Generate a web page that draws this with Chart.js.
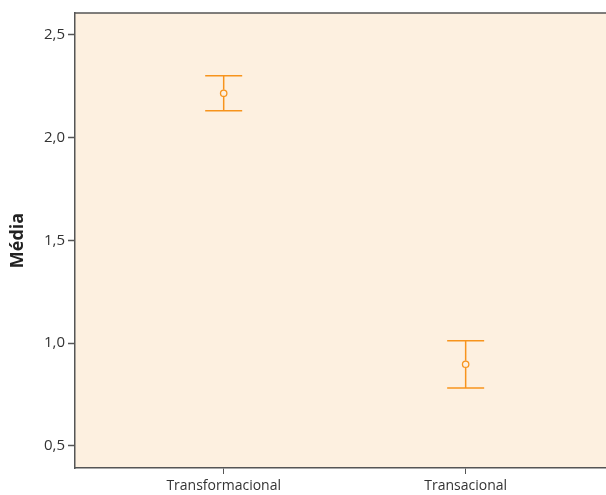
<!DOCTYPE html>
<html>
<head>
<meta charset="utf-8">
<script src="https://cdn.jsdelivr.net/npm/chart.js@4"></script>
<style>
  html, body { margin: 0; padding: 0; background: #fff; }
  #wrap { width: 606px; height: 495px; }
</style>
</head>
<body>
<div id="wrap"><canvas id="chart" width="606" height="495"></canvas></div>
<script>
const categories = ["Transformacional", "Transacional"];
const means = [2.216, 0.897];
const upper = [2.302, 1.011];
const lower = [2.131, 0.782];
const yTicks = [0.5, 1.0, 1.5, 2.0, 2.5];

const orange = "#f7941d";
const frame = "#555555";

// background + top border of the plot frame
const framePlugin = {
  id: "frame",
  beforeDraw(chart) {
    const { ctx, chartArea: a } = chart;
    ctx.save();
    ctx.fillStyle = "#fdf0e0";
    ctx.fillRect(a.left, a.top, a.right - a.left, a.bottom - a.top);
    ctx.strokeStyle = frame;
    ctx.lineWidth = 1.5;
    ctx.beginPath();
    ctx.moveTo(a.left, a.top);
    ctx.lineTo(a.right, a.top);
    ctx.stroke();
    ctx.restore();
  }
};

// whiskers and caps from the data arrays, through the scales
const errorBars = {
  id: "errorBars",
  afterDatasetsDraw(chart) {
    const { ctx, scales } = chart;
    const x = scales.x, y = scales.y;
    ctx.save();
    ctx.strokeStyle = orange;
    ctx.lineWidth = 1.5;
    categories.forEach((c, i) => {
      const px = x.getPixelForValue(i + 1);
      const top = y.getPixelForValue(upper[i]);
      const bot = y.getPixelForValue(lower[i]);
      const mid = y.getPixelForValue(means[i]);
      ctx.beginPath();
      ctx.moveTo(px, top); ctx.lineTo(px, mid - 3.5);
      ctx.moveTo(px, mid + 3.5); ctx.lineTo(px, bot);
      ctx.moveTo(px - 18.5, top); ctx.lineTo(px + 18.5, top);
      ctx.moveTo(px - 18.5, bot); ctx.lineTo(px + 18.5, bot);
      ctx.stroke();
    });
    ctx.restore();
  }
};

const ctx = document.getElementById("chart").getContext("2d");
new Chart(ctx, {
  type: "scatter",
  data: {
    datasets: [{
      data: means.map((m, i) => ({ x: i + 1, y: m })),
      pointStyle: "circle",
      pointRadius: 3.2,
      pointBorderWidth: 1.3,
      pointBorderColor: orange,
      pointBackgroundColor: "rgba(0,0,0,0)"
    }]
  },
  options: {
    responsive: false,
    animation: false,
    layout: { autoPadding: false, padding: { top: 13, right: 0, bottom: 0, left: 0 } },
    plugins: { legend: { display: false }, tooltip: { enabled: false } },
    scales: {
      x: {
        type: "linear",
        min: 0.3855,
        max: 2.58,
        afterBuildTicks: s => { s.ticks = categories.map((c, i) => ({ value: i + 1 })); },
        afterFit: s => { s.height = 27; },
        ticks: {
          callback: (v) => categories[v - 1] || "",
          color: "#333",
          font: { family: "Open Sans", size: 14 },
          padding: 4,
          maxRotation: 0
        },
        grid: { drawOnChartArea: false, tickLength: 6, color: frame, tickWidth: 1 },
        border: { color: frame, width: 1.5 }
      },
      y: {
        min: 0.392,
        max: 2.607,
        afterBuildTicks: s => { s.ticks = yTicks.map(v => ({ value: v })); },
        afterFit: s => { s.width = 75; },
        ticks: {
          callback: v => v.toFixed(1).replace(".", ","),
          color: "#333",
          font: { family: "Open Sans", size: 15 },
          padding: 3
        },
        title: {
          display: true,
          text: "Média",
          color: "#222",
          font: { family: "Open Sans", size: 18, weight: "bold" },
          padding: { top: 7, bottom: 0 }
        },
        grid: { drawOnChartArea: false, tickLength: 7, color: frame, tickWidth: 1.5 },
        border: { color: frame, width: 1.5 }
      }
    }
  },
  plugins: [framePlugin, errorBars]
});
</script>
</body>
</html>
